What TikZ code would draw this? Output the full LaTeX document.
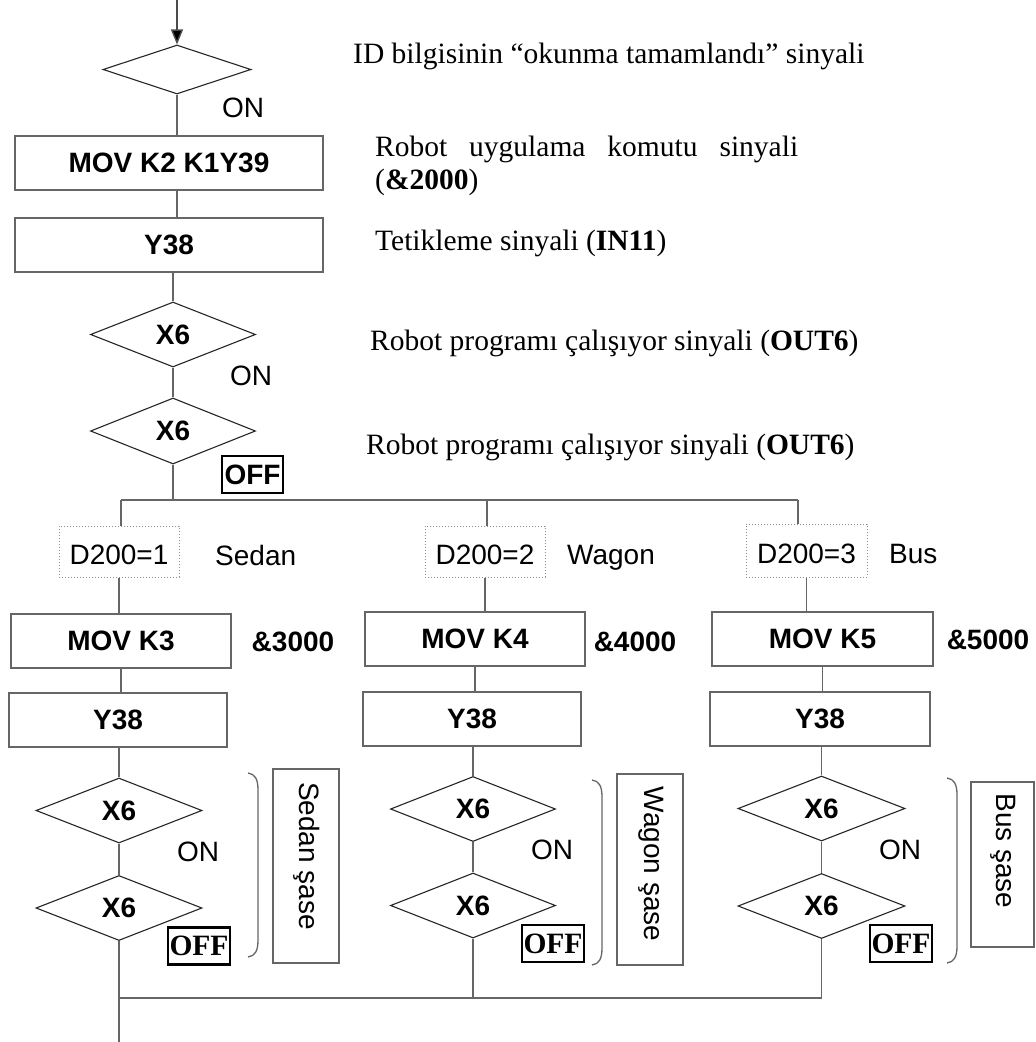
\documentclass[tikz,border=0pt]{standalone}
\usepackage{fontspec}
\setmainfont{Liberation Serif}
\newfontfamily\arialf{Liberation Sans}
\usetikzlibrary{shapes.geometric,arrows.meta}
\newcommand\sansbig{\arialf\fontsize{28}{32}\selectfont}
\newcommand\serbig{\fontsize{29.5}{33}\selectfont}
\begin{document}
\begin{tikzpicture}[x=1pt,y=-1pt,
  conn/.style={draw=black!60,line width=1.4pt},
  boxn/.style={draw=black!60,line width=1.5pt,rectangle,inner sep=0pt,font=\sansbig\bfseries},
  dia/.style={draw=black!85,line width=1.1pt,diamond,inner sep=0pt,font=\sansbig\bfseries,minimum width=166pt,minimum height=65pt},
  dotbox/.style={draw=black!45,dotted,line width=1pt,inner sep=0pt,font=\sansbig,minimum width=120pt,minimum height=51pt,text height=25pt,text depth=0pt},
  sans/.style={font=\sansbig,inner sep=0pt},
  sansb/.style={font=\sansbig\bfseries,inner sep=0pt},
  ser/.style={font=\serbig,inner sep=0pt,anchor=base west},
  offs/.style={draw=black,line width=2.2pt,inner sep=0pt,font=\sansbig\bfseries,minimum width=61pt,minimum height=37pt},
  offr/.style={draw=black,line width=2.2pt,inner sep=0pt,font=\serbig\bfseries,minimum width=62pt,minimum height=37pt},
  chbox/.style={draw=black!60,line width=1.5pt,inner sep=0pt},
  rot/.style={font=\sansbig,rotate=-90,inner sep=0pt},
  brk/.style={draw=black!60,line width=1.3pt}]
\useasboundingbox (0,0) rectangle (1036,1042);
\fill[white] (0,0) rectangle (1036,1042);

% top part
\coordinate (top) at (177,0);
\node[dia,minimum width=148pt,minimum height=49pt] (d1) at (177,69.5) {};
\node[sans] (on1) at (243,108) {ON};
\node[boxn,minimum width=308pt,minimum height=54pt] (b1) at (169,163) {MOV K2 K1Y39};
\node[boxn,minimum width=308pt,minimum height=54pt] (b2) at (169,245) {Y38};
\node[dia,minimum width=165pt,minimum height=65pt] (d3) at (173,334.5) {X6};
\node[sans] (on2) at (251,376) {ON};
\node[dia,minimum width=165pt,minimum height=66pt] (d4) at (173,431) {X6};
\node[offs] (off0) at (252.5,474.5) {OFF};

% right texts
\node[ser] (t1) at (353,63) {ID bilgisinin “okunma tamamlandı” sinyali};
\node[ser] (t2) at (375,156) {\makebox[423pt][s]{Robot uygulama komutu sinyali}};
\node[ser] (t2b) at (375,189) {(\textbf{\&2000})};
\node[ser] (t3) at (375,250) {Tetikleme sinyali (\textbf{IN11})};
\node[ser] (t4) at (370,350) {Robot programı çalışıyor sinyali (\textbf{OUT6})};
\node[ser] (t5) at (366,454) {Robot programı çalışıyor sinyali (\textbf{OUT6})};

% branch
\coordinate (jL) at (121,500);
\coordinate (jM) at (487,500);
\coordinate (jR) at (798,500);
\coordinate (hL) at (119,998);
\coordinate (bot) at (0,1042);

% column 1
\node[dotbox] (q1) at (119,551.5) {D200=1};
\node[sans,anchor=west] (n1) at (215,555) {Sedan};
\node[boxn,minimum width=220pt,minimum height=54pt] (m1) at (121,641) {MOV K3};
\node[sansb] (a1) at (293,642) {\&3000};
\node[boxn,minimum width=218pt,minimum height=54pt] (y1) at (118,720) {Y38};
\node[dia] (dA1) at (119,810.5) {X6};
\node[dia] (dB1) at (119,908) {X6};
\node[sans] (on3) at (198,852) {ON};
\node[offr] (off1) at (199,946) {OFF};
\node[chbox,minimum width=66pt,minimum height=194pt] (s1) at (306,866) {};
\node[rot] (r1) at (307,856) {Sedan şase};

% column 2
\node[dotbox] (q2) at (485,551.5) {D200=2};
\node[sans,anchor=west] (n2) at (567,558) {Wagon};
\node[boxn,minimum width=220pt,minimum height=54pt] (m2) at (475,639) {MOV K4};
\node[sansb] (a2) at (635,642) {\&4000};
\node[boxn,minimum width=218pt,minimum height=54pt] (y2) at (472,719) {Y38};
\node[dia,minimum width=165pt] (dA2) at (473,809) {X6};
\node[dia,minimum width=165pt] (dB2) at (473,905.5) {X6};
\node[sans] (on4) at (552,850) {ON};
\node[offr] (off2) at (553,943.5) {OFF};
\node[chbox,minimum width=66pt,minimum height=191pt] (s2) at (650,869.5) {};
\node[rot] (r2) at (651,864) {Wagon şase};

% column 3
\node[dotbox,minimum width=121pt,minimum height=53pt] (q3) at (806.5,550.5) {D200=3};
\node[sans,anchor=west] (n3) at (889,554) {Bus};
\node[boxn,minimum width=221pt,minimum height=54pt] (m3) at (822.5,639) {MOV K5};
\node[sansb] (a3) at (988,640) {\&5000};
\node[boxn,minimum width=220pt,minimum height=54pt] (y3) at (820,719) {Y38};
\node[dia,minimum width=167pt] (dA3) at (821.5,808.5) {X6};
\node[dia,minimum width=167pt] (dB3) at (821.5,906) {X6};
\node[sans] (on5) at (900,850) {ON};
\node[offr] (off3) at (901,943.5) {OFF};
\node[chbox,minimum width=63pt,minimum height=165pt] (s3) at (1002.5,864.5) {};
\node[rot] (r3) at (1003,851) {Bus şase};

% connectors top
\draw[line width=1.4pt,black!70,-{Triangle[length=15pt,width=12pt,fill=black]}] (top) -- (d1.north);
\draw[conn] (d1.south) -- (d1.south |- b1.north);
\draw[conn] (d1.south |- b1.south) -- (d1.south |- b2.north);
\draw[conn] (d3.north |- b2.south) -- (d3.north);
\draw[conn] (d3.south) -- (d4.north);
\draw[conn] (d4.south) -- (d4.south |- jL);
\draw[conn] (jL) -- (jR);
\draw[conn] (jL) -- (jL |- q1.north);
\draw[conn] (jM) -- (jM |- q2.north);
\draw[conn] (jR) -- (jR |- q3.north);

% column connectors
\foreach \q/\m/\y/\a/\b in {q1/m1/y1/dA1/dB1, q2/m2/y2/dA2/dB2, q3/m3/y3/dA3/dB3}{
  \draw[conn] (\q.south) -- (\q.south |- \m.north);
  \draw[conn] (\m.south) -- (\m.south |- \y.north);
  \draw[conn] (\a.north |- \y.south) -- (\a.north);
  \draw[conn] (\a.south) -- (\b.north);
}
\draw[conn] (dB1.south) -- (dB1.south |- bot);
\draw[conn] (hL) -- (dB3.south |- hL);
\draw[conn] (dB2.south) -- (dB2.south |- hL);
\draw[conn] (dB3.south) -- (dB3.south |- hL);

% brackets
\draw[brk] (248,773) .. controls (255,774) and (258,779) .. (258,790) -- (258,940) .. controls (258,951) and (255,956) .. (248,957);
\draw[brk] (592,780) .. controls (599,781) and (602,786) .. (602,797) -- (602,948) .. controls (602,959) and (599,964) .. (592,965);
\draw[brk] (947,778) .. controls (954,779) and (957,784) .. (957,795) -- (957,946) .. controls (957,957) and (954,962) .. (947,963);
\end{tikzpicture}
\end{document}
